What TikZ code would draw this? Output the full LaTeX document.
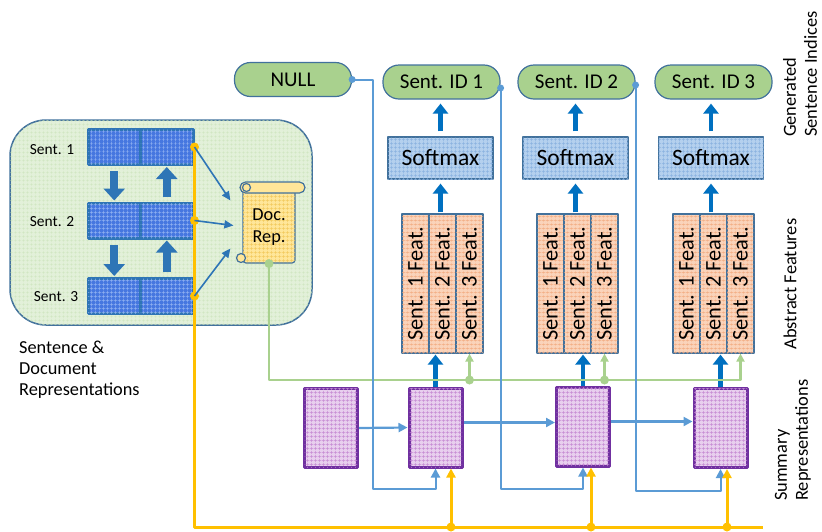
\documentclass[tikz,border=0pt]{standalone}
\usepackage{fontspec}
\setmainfont{Carlito}
\usetikzlibrary{arrows.meta, patterns.meta, calc}

\definecolor{edgeblue}{HTML}{41719C}
\definecolor{idgreen}{HTML}{A9D18E}
\definecolor{panelgreen}{HTML}{E2F0D9}
\definecolor{panelgrid}{HTML}{C9E2B8}
\definecolor{sentblue}{HTML}{4677E0}
\definecolor{sentgrid}{HTML}{93B3F2}
\definecolor{sentedge}{HTML}{2E75B6}
\definecolor{softfill}{HTML}{B4D0EE}
\definecolor{softgrid}{HTML}{8AB2E0}
\definecolor{featfill}{HTML}{FAD3BA}
\definecolor{featgrid}{HTML}{F2A97E}
\definecolor{sumfill}{HTML}{E8CFEE}
\definecolor{sumgrid}{HTML}{C68AD3}
\definecolor{sumedge}{HTML}{7030A0}
\definecolor{docfill}{HTML}{FFE699}
\definecolor{docgrid}{HTML}{F2C95C}
\definecolor{arrowblue}{HTML}{0070C0}
\definecolor{linkblue}{HTML}{5B9BD5}
\definecolor{busyellow}{HTML}{FFC000}
\definecolor{busgreen}{HTML}{A9D18E}

\begin{document}
\begin{tikzpicture}[x=1pt, y=-1pt, line join=round,
        meshfill/.style={postaction={pattern={Hatch[distance=4pt, angle=0, line width=0.35pt]}, pattern color=#1}}]
    \tikzstyle{every node}=[inner sep=0pt, text=black]
    \tikzstyle{idnode}=[draw=edgeblue, fill=idgreen, line width=1.2pt, rounded corners=16pt, minimum width=117pt, minimum height=34pt, font=\fontsize{21}{25}\selectfont]
    \tikzstyle{softbox}=[draw=edgeblue, fill=softfill, meshfill=softgrid, line width=1.2pt, minimum width=105pt, minimum height=42pt, font=\fontsize{23.5}{28}\selectfont]
    \tikzstyle{featbox}=[draw=edgeblue, fill=featfill, meshfill=featgrid, line width=1.2pt, rotate=90, minimum width=139pt, minimum height=27pt, font=\fontsize{22.4}{26}\selectfont]
    \tikzstyle{sumbox}=[draw=sumedge, fill=sumfill, meshfill=sumgrid, line width=3pt, minimum width=53pt, minimum height=79pt]
    \tikzstyle{sentcell}=[draw=sentedge, fill=sentblue, meshfill=sentgrid, line width=3pt, minimum width=52.5pt, minimum height=35pt]
    \tikzstyle{sidelabel}=[rotate=90, align=left, font=\fontsize{18.4}{21}\selectfont]
    \tikzstyle{blockarrow}=[draw=sentedge, line width=8pt, -{Triangle[width=21pt, length=12pt]}, shorten <=5pt, shorten >=1pt]
    \tikzstyle{thickarrow}=[draw=arrowblue, line width=4.5pt, -{Triangle[width=15pt, length=10pt]}]
    \tikzstyle{docarrow}=[draw=sentedge, line width=1.6pt, -{Triangle[width=8pt, length=9pt]}]
    \tikzstyle{linkarrow}=[draw=linkblue, line width=2.2pt, -{Triangle[width=9pt, length=9pt]}]
    \tikzstyle{fbline}=[draw=linkblue, line width=2pt, -{Triangle[width=9pt, length=9pt]}]
    \tikzstyle{ybus}=[draw=busyellow, line width=3pt]
    \tikzstyle{gbus}=[draw=busgreen, line width=2.2pt]

    \useasboundingbox (0,0) rectangle (822,531);

    % sentence & document panel
    \node[draw=edgeblue, fill=panelgreen, meshfill=panelgrid, line width=1.5pt, rounded corners=36pt,
        minimum width=302pt, minimum height=205pt] (panel) at (161,222.5) {};

    \node[sentcell] (s1a) at (114.25,147) {};
    \node[sentcell] (s1b) at (166.75,147) {};
    \node[sentcell] (s2a) at (114.25,220.5) {};
    \node[sentcell] (s2b) at (166.75,220.5) {};
    \node[sentcell] (s3a) at (114.25,296) {};
    \node[sentcell] (s3b) at (166.75,296) {};

    \node[font=\fontsize{15.4}{18}\selectfont] (l1) at (52,150) {Sent. 1};
    \node[font=\fontsize{15.4}{18}\selectfont] (l2) at (52,222) {Sent. 2};
    \node[font=\fontsize{15.4}{18}\selectfont] (l3) at (56,297) {Sent. 3};

    \path (s1a) edge[blockarrow] (s2a)
          (s2a) edge[blockarrow] (s3a)
          (s2b) edge[blockarrow] (s1b)
          (s3b) edge[blockarrow] (s2b);

    % document representation (scroll)
    \node[draw=edgeblue, fill=docfill, meshfill=docgrid, line width=1.2pt, rounded corners=3pt,
        minimum width=52pt, minimum height=75pt, align=center, font=\fontsize{18.3}{22}\selectfont,
        text depth=0pt] (doc) at (269,225.5) {Doc.\\Rep.};
    \draw[edgeblue, fill=docfill, line width=1.2pt, rounded corners=5.5pt] (240,182) rectangle (305,193);
    \draw[edgeblue, fill=docfill, line width=1.2pt] (246.5,187.5) circle (4pt);
    \draw[edgeblue, fill=docfill, line width=1.2pt] (241,258) circle (4.5pt);

    % yellow bus
    \coordinate (ybus) at (0,527);
    \coordinate (yend) at (763,527);
    \draw[ybus] (s1b.east) -- (s1b.east |- ybus) -- (yend);
    \foreach \s in {s1b, s2b, s3b}
        \fill[busyellow] (\s.east) circle (4.5pt);

    \draw[docarrow] (s1b.east) -- ([xshift=-12pt, yshift=25pt]doc.west);
    \draw[docarrow] (s2b.east) -- ([xshift=-9pt]doc.west);
    \draw[docarrow] (s3b.east) -- ([xshift=-12pt, yshift=-23pt]doc.west);

    % outputs
    \node[idnode] (null) at (293,79.5) {NULL};
    \node[idnode] (id1) at (441.5,82) {Sent. ID 1};
    \node[idnode] (id2) at (576.5,82) {Sent. ID 2};
    \node[idnode] (id3) at (713.5,82) {Sent. ID 3};

    \node[softbox] (soft1) at (440.5,158) {Softmax};
    \node[softbox] (soft2) at (575.5,158) {Softmax};
    \node[softbox] (soft3) at (711,158) {Softmax};

    % abstract features
    \foreach \c/\x in {1/402, 2/537, 3/673} {
        \node[featbox] (f\c a) at (\x+13.5,283.5) {Sent. 1 Feat.};
        \node[featbox] (f\c b) at (\x+40.5,283.5) {Sent. 2 Feat.};
        \node[featbox] (f\c c) at (\x+67.5,283.5) {Sent. 3 Feat.};
    }

    % summary representations
    \node[sumbox] (sum1) at (331,428) {};
    \node[sumbox] (sum2) at (435.5,427.5) {};
    \node[sumbox] (sum3) at (583,426.5) {};
    \node[sumbox] (sum4) at (720.5,428) {};

    \draw[linkarrow] (sum1.east) -- (sum2.west);
    \draw[linkarrow] ([yshift=5pt]sum2.east) -- ([yshift=5pt]sum2.east -| sum3.west);
    \draw[linkarrow] ([yshift=5pt]sum3.east) -- ([yshift=5pt]sum3.east -| sum4.west);

    \foreach \c/\s in {1/sum2, 2/sum3, 3/sum4} {
        \draw[thickarrow, shorten >=1pt] (\s.north) -- (\s.north |- f\c b.west);
        \draw[thickarrow, shorten <=1pt, shorten >=4pt] (soft\c.south |- f\c b.east) -- (soft\c.south);
        \draw[thickarrow, shorten <=5pt, shorten >=4pt] (soft\c.north) -- (soft\c.north |- id\c.south);
    }

    % green bus from the document representation
    \coordinate (gbus) at (0,380);
    \draw[gbus, -{Triangle[width=8pt, length=8pt]}] (doc.south) -- (doc.south |- gbus) -- (f3c.west |- gbus) -- (f3c.west);
    \foreach \c in {1, 2} {
        \draw[gbus, -{Triangle[width=8pt, length=8pt]}] (f\c c.west |- gbus) -- (f\c c.west);
        \fill[busgreen] (f\c c.west |- gbus) circle (4.5pt);
    }
    \fill[busgreen] (doc.south) circle (4.5pt);

    % feedback of the chosen sentence
    \coordinate (nullturn) at (373,489);
    \coordinate (id1out) at ([yshift=-6pt]id1.east);
    \coordinate (id2out) at ([yshift=-3pt]id2.east);
    \draw[fbline] (null.east) -| (nullturn) -| (sum2.south);
    \draw[fbline] (id1out) -- (id1out |- nullturn) -| (sum3.south);
    \draw[fbline] (id2out) -- ([yshift=-2pt]id2out |- nullturn) -| (sum4.south);
    \foreach \p in {null.east, id1out, id2out}
        \fill[linkblue] (\p) circle (3.5pt);

    % yellow inputs to the summaries
    \coordinate (y2) at ([xshift=15.5pt]sum2.south);
    \coordinate (y3) at ([xshift=8pt]sum3.south);
    \coordinate (y4) at ([xshift=6.5pt]sum4.south);
    \foreach \p in {y2, y3, y4} {
        \draw[ybus, -{Triangle[width=9pt, length=9pt]}] (\p |- ybus) -- (\p);
        \fill[busyellow] (\p |- ybus) circle (4.5pt);
    }

    % captions
    \node[align=left, anchor=north west, font=\fontsize{18.3}{21}\selectfont] (doccap) at (19,341) {Sentence \&\\Document\\Representations};
    \node[sidelabel, anchor=west] (gencap) at (800,137) {Generated\\Sentence Indices};
    \node[sidelabel] (featcap) at (790,284) {Abstract Features};
    \node[sidelabel, anchor=west] (sumcap) at (793,501) {Summary\\Representations};
\end{tikzpicture}
\end{document}
